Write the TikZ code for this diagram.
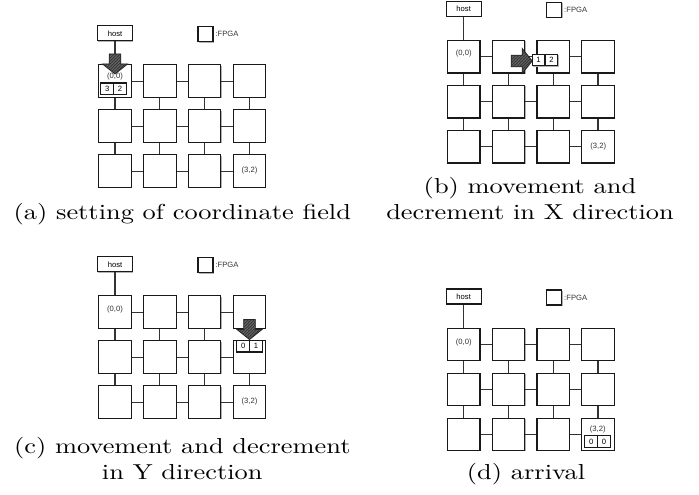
\documentclass[tikz,border=0pt]{standalone}
\usepackage{graphicx}
\usepackage{fontspec}
\setmainfont{Latin Modern Roman}
\newfontfamily\labsans{Liberation Sans}
\usetikzlibrary{shadows,patterns.meta}
\newcommand\lab{\labsans\fontsize{2.9}{3.4}\selectfont}
\newcommand\capt[1]{\scalebox{1}[0.82]{\begin{tabular}[t]{@{}c@{}}#1\end{tabular}}}
\tikzset{
  box/.style={draw=black!90, line width=0.42pt, fill=white, inner sep=0pt,
    drop shadow={shadow xshift=0.3pt, shadow yshift=-0.3pt, fill=black!30, opacity=1}},
  fpga/.style={box, minimum width=12.32pt, minimum height=12.32pt},
  hostbox/.style={box, minimum width=13.27pt, minimum height=5.69pt, font=\lab},
  legbox/.style={box, minimum width=5.69pt, minimum height=5.69pt},
  cell/.style={box, minimum width=4.85pt, minimum height=4.4pt, font=\lab},
  lbl/.style={inner sep=0pt, font=\lab, text=black!80},
  link/.style={line width=0.5pt, draw=black!80},
  captext/.style={inner sep=0pt, anchor=base},
  bigarrow/.style={draw=black!85, line width=0.3pt, preaction={fill=black!78},
    pattern={Lines[angle=45,distance=0.8pt,line width=0.25pt]}, pattern color=black!55},
  panel/.pic={
    \node[hostbox] (-host) at (115,33.3) {host};
    \node[legbox] (-leg) at (205.5,34.3) {};
    \node[lbl, anchor=west] (-legtext) at (215,34.3) {:FPGA};
    \foreach \i in {0,1,2,3}{
      \foreach \j in {0,1,2}{
        \node[fpga] (-n\i\j) at ({115+44.8*\i},{81.2+45*\j}) {};
      }
    }
    \foreach \i/\k in {0/1,1/2,2/3}{
      \foreach \j in {0,1,2}{
        \draw[link] (-n\i\j) -- (-n\k\j);
      }
    }
    \foreach \i in {0,1,2,3}{
      \foreach \j/\k in {0/1,1/2}{
        \draw[link] (-n\i\j) -- (-n\i\k);
      }
    }
    \draw[link] (-host) -- (-n00);
  },
  darr/.pic={
    \draw[bigarrow] (-5.8,-20) -- (5.8,-20) -- (5.8,-10) -- (12.5,-10) -- (0,0)
      -- (-12.5,-10) -- (-5.8,-10) -- cycle;
  },
  rarr/.pic={
    \draw[bigarrow] (-21,-5.8) -- (-10,-5.8) -- (-10,-12.5) -- (0,0)
      -- (-10,12.5) -- (-10,5.8) -- (-21,5.8) -- cycle;
  }
}
\begin{document}
\begin{tikzpicture}[x=0.379pt, y=-0.379pt]
\useasboundingbox (0,0) rectangle (699,495);

% (a)
\pic (a) at (0,0) {panel};
\node[lbl] (a-org) at (115,76.3) {(0,0)};
\node[lbl] (a-end) at (249.5,171) {(3,2)};
\node[cell] (a-cx) at (107.3,88.8) {3};
\node[cell] (a-cy) at (120.1,88.8) {2};
\pic at (115,74) {darr};
\node[captext] (capa) at (182.3,219.5) {\capt{(a) setting of coordinate field}};

% (b)
\pic (b) at (348.7,-24.4) {panel};
\begin{scope}[shift={(348.7,-24.4)}]
\node[lbl] (b-org) at (115,78) {(0,0)};
\node[lbl] (b-end) at (249.5,171) {(3,2)};
\node[cell] (b-cx) at (189.9,84.4) {1};
\node[cell] (b-cy) at (202.7,84.4) {2};
\pic at (183.5,85.4) {rarr};
\end{scope}
\node[captext] (capb) at (530,193.5) {\capt{(b) movement and\\decrement in X direction}};

% (c)
\pic (c) at (0,231) {panel};
\begin{scope}[shift={(0,231)}]
\node[lbl] (c-org) at (115,78.3) {(0,0)};
\node[lbl] (c-end) at (249.5,171) {(3,2)};
\node[cell] (c-cx) at (243.3,115.2) {0};
\node[cell] (c-cy) at (256.1,115.2) {1};
\pic at (249.5,108.5) {darr};
\end{scope}
\node[captext] (capc) at (182.3,453.5) {\capt{(c) movement and decrement\\in Y direction}};

% (d)
\pic (d) at (348.7,263.2) {panel};
\begin{scope}[shift={(348.7,263.2)}]
\node[lbl] (d-org) at (115,79) {(0,0)};
\node[lbl] (d-end) at (249,166) {(3,2)};
\node[cell] (d-cx) at (242.6,178.5) {0};
\node[cell] (d-cy) at (255.4,178.5) {0};
\end{scope}
\node[captext] (capd) at (526,479.5) {\capt{(d) arrival}};
\end{tikzpicture}
\end{document}
